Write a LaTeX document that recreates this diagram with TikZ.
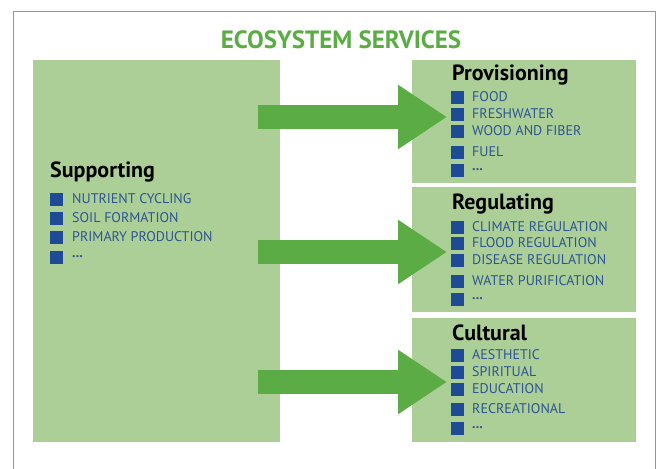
\documentclass[tikz,border=0pt]{standalone}
\usepackage{fontspec}
\setmainfont{PT Sans}
\usetikzlibrary{arrows.meta}
\definecolor{boxgreen}{RGB}{172,207,152}
\definecolor{arrgreen}{RGB}{92,172,70}
\definecolor{sqblue}{RGB}{30,75,150}
\definecolor{txtblue}{RGB}{45,85,145}
\definecolor{framegray}{RGB}{150,150,150}
\newcommand\mydotsx{\textbf{...}}
\begin{document}
\begin{tikzpicture}[x=1pt,y=-1pt,
  box/.style={fill=boxgreen,draw=none,anchor=north west,inner sep=0pt},
  heading/.style={anchor=west,inner sep=0pt,font=\fontsize{22}{22}\selectfont\bfseries},
  item/.style={anchor=west,inner sep=0pt,text=txtblue,font=\fontsize{14}{14}\selectfont},
  sq/.style={fill=sqblue,draw=none,minimum size=13pt,inner sep=0pt,anchor=west},
  bigarrow/.style={draw=arrgreen,line width=24pt,-{Triangle[length=49pt,width=61pt,fill=arrgreen]}}
]
\useasboundingbox (0,0) rectangle (657,469);
\draw[framegray,line width=0.8pt] (13,469) -- (13,11) -- (655,11) -- (655,469);

\node[anchor=center,inner sep=0pt,text=arrgreen,font=\fontsize{25}{25}\selectfont\bfseries] (title) at (341,40) {ECOSYSTEM SERVICES};

\node[box,minimum width=247pt,minimum height=382pt] (sup) at (33,60) {};
\node[box,minimum width=224pt,minimum height=123pt] (prov) at (412,60) {};
\node[box,minimum width=224pt,minimum height=125pt] (reg) at (412,187) {};
\node[box,minimum width=224pt,minimum height=124pt] (cult) at (412,318) {};

% arrows
\coordinate (s1) at (258,117); \coordinate (e1) at (447,117);
\coordinate (s2) at (258,252); \coordinate (e2) at (447,252);
\coordinate (s3) at (258,382); \coordinate (e3) at (447,382);
\draw[bigarrow] (s1) -- (e1);
\draw[bigarrow] (s2) -- (e2);
\draw[bigarrow] (s3) -- (e3);

% Supporting
\node[heading] (hsup) at (50,172) {Supporting};
\foreach \y/\t [count=\i] in {199/NUTRIENT CYCLING,218/SOIL FORMATION,237/PRIMARY PRODUCTION,257/\mydotsx}{
  \node[sq] (supsq\i) at (50,\y) {};
  \node[item] (supit\i) at (72,\y) {\t};
}

% Provisioning
\node[heading] (hprov) at (452,75) {Provisioning};
\foreach \y/\t [count=\i] in {97/FOOD,114/FRESHWATER,131/WOOD AND FIBER,152/FUEL,170/\mydotsx}{
  \node[sq] (provsq\i) at (451,\y) {};
  \node[item] (provit\i) at (472,\y) {\t};
}

% Regulating
\node[heading] (hreg) at (452,204) {Regulating};
\foreach \y/\t [count=\i] in {227/CLIMATE REGULATION,243/FLOOD REGULATION,260/DISEASE REGULATION,281/WATER PURIFICATION,299/\mydotsx}{
  \node[sq] (regsq\i) at (451,\y) {};
  \node[item] (regit\i) at (472,\y) {\t};
}

% Cultural
\node[heading] (hcult) at (452,333) {Cultural};
\foreach \y/\t [count=\i] in {355/AESTHETIC,372/SPIRITUAL,389/EDUCATION,409/RECREATIONAL,428/\mydotsx}{
  \node[sq] (cultsq\i) at (451,\y) {};
  \node[item] (cultit\i) at (472,\y) {\t};
}
\end{tikzpicture}
\end{document}
